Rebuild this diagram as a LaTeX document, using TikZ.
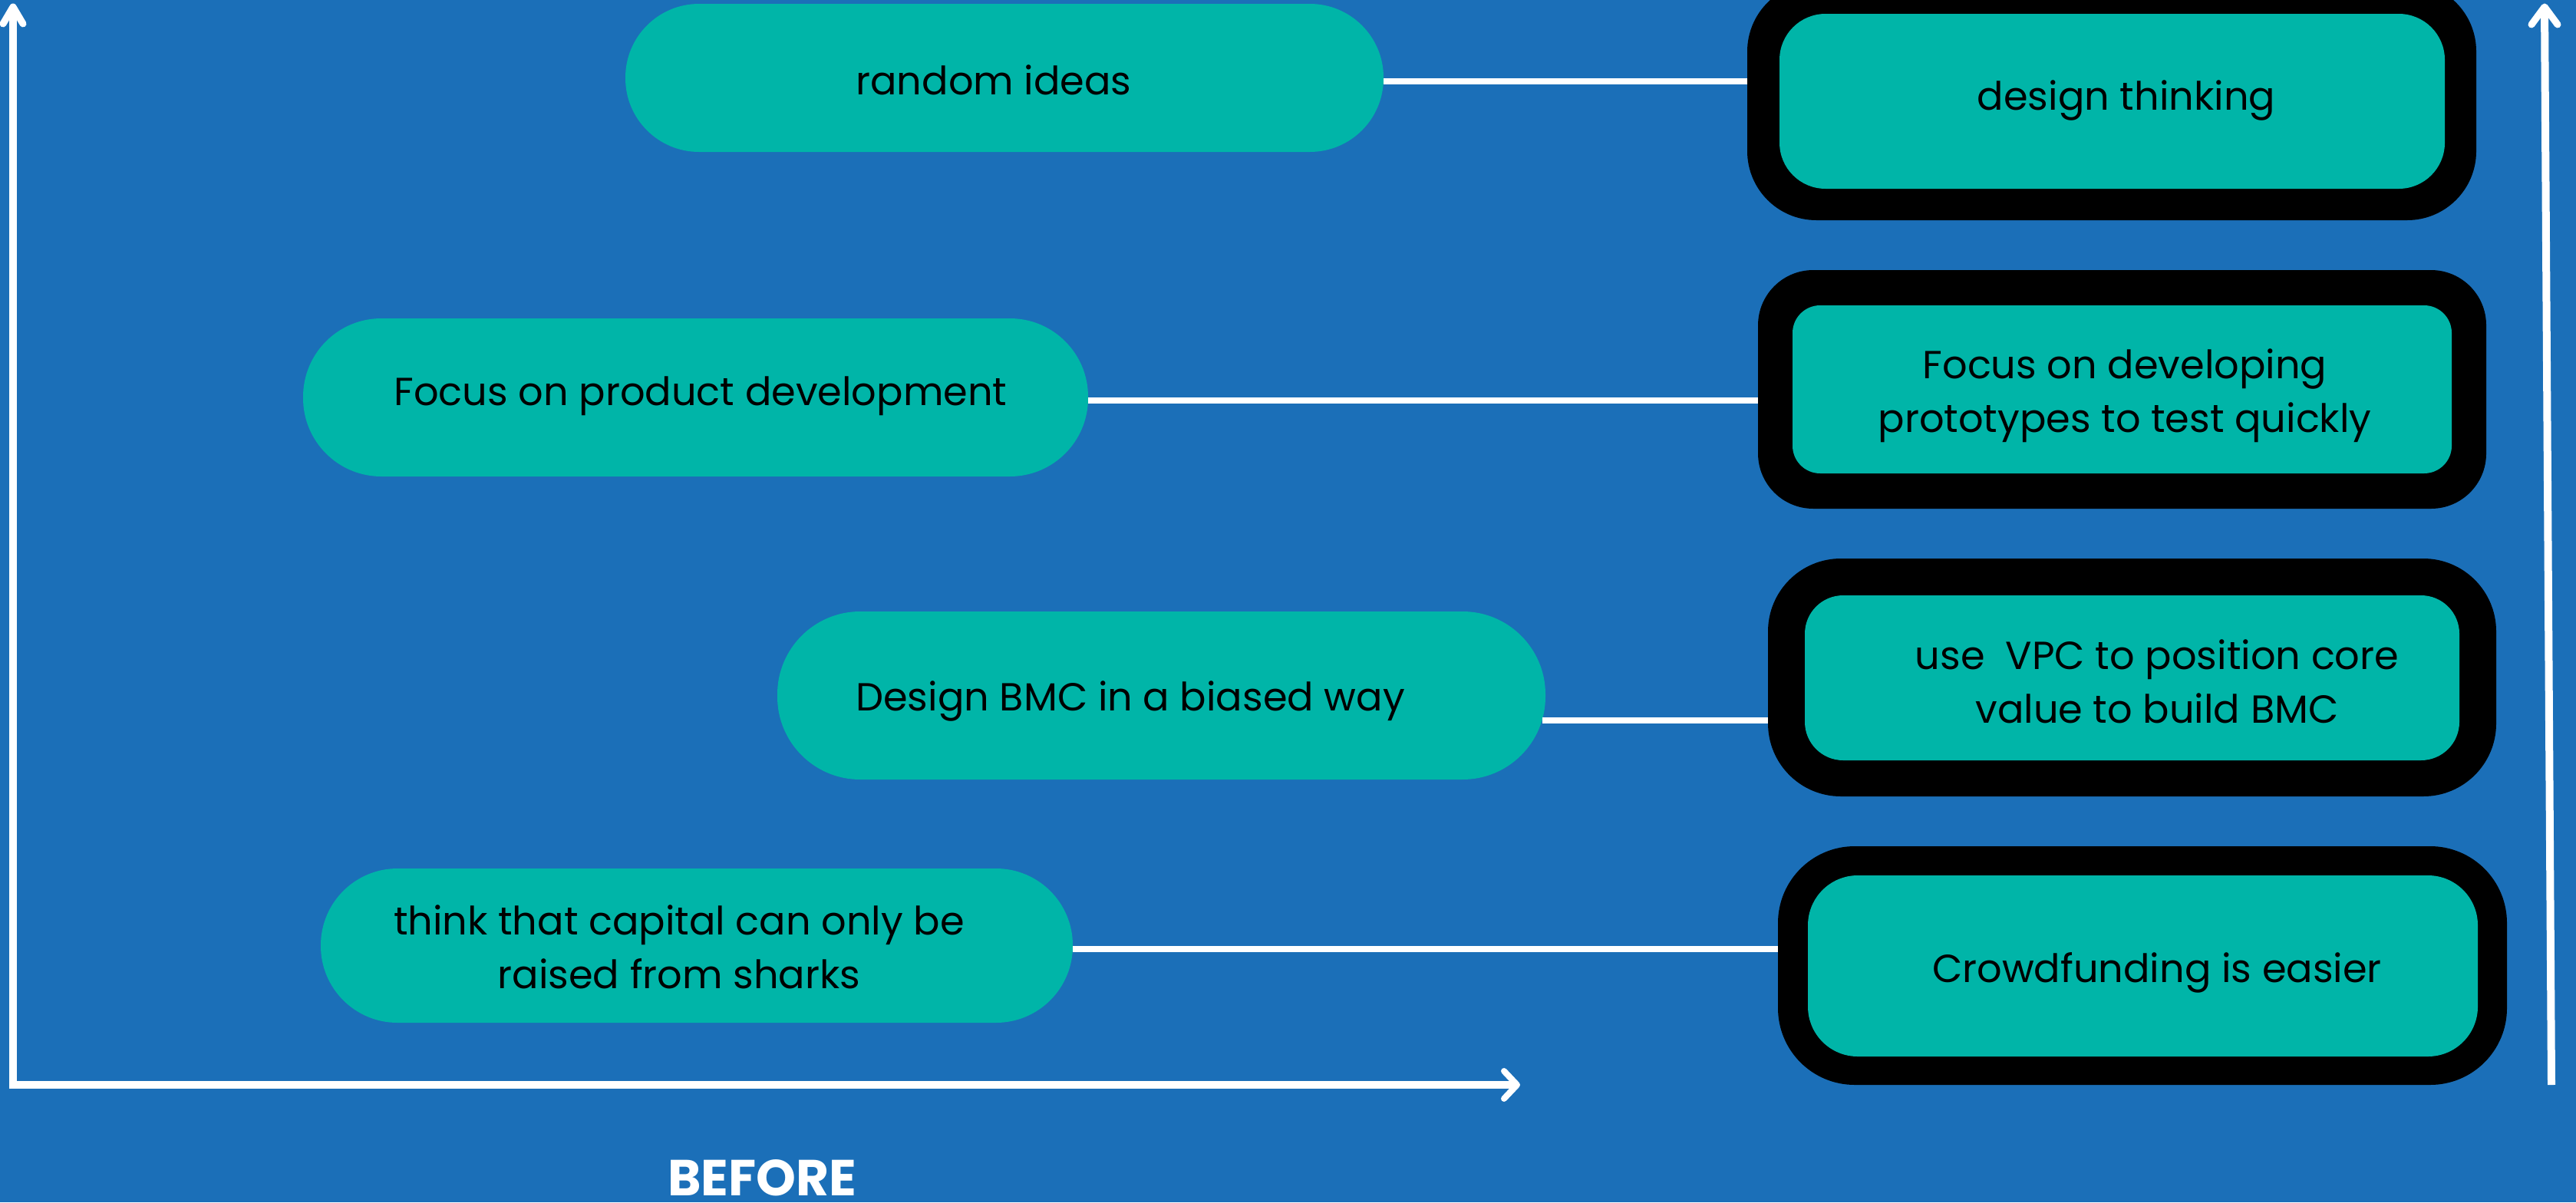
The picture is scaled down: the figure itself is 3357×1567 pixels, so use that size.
\documentclass[tikz,border=0pt]{standalone}
\usepackage{fontspec}
\setmainfont{Poppins}
\definecolor{bgblue}{RGB}{27,111,184}
\definecolor{tealbox}{RGB}{0,181,168}
\newcommand{\twoline}[2]{\begin{tabular}[t]{@{}c@{}}#1\\#2\end{tabular}}
\begin{document}
\begin{tikzpicture}[x=1pt,y=-1pt,
  pillbox/.style={fill=tealbox, draw=none, inner sep=0pt},
  framebox/.style={fill=black, draw=none, inner sep=0pt},
  innerbox/.style={fill=tealbox, draw=none, inner sep=0pt},
  txt/.style={anchor=base, inner sep=0pt, text=black, font=\fontsize{51}{70}\selectfont},
  conn/.style={draw=white, line width=8pt},
  axisline/.style={draw=white, line width=10pt},
  headline/.style={draw=white, line width=9pt, line cap=round, line join=round}]
\useasboundingbox (0,0) rectangle (3357,1567);
\clip (0,0) rectangle (3357,1567);
\fill[bgblue] (0,0) rectangle (3357,1567);

% left pills
\node[pillbox, rounded corners=96pt, minimum width=988pt, minimum height=193pt] (L1) at (1309,101.5) {};
\node[pillbox, rounded corners=102pt, minimum width=1023pt, minimum height=206pt] (L2) at (906.5,518) {};
\node[pillbox, rounded corners=108pt, minimum width=1001pt, minimum height=219pt] (L3) at (1513.5,906.5) {};
\node[pillbox, rounded corners=100pt, minimum width=980pt, minimum height=201pt] (L4) at (908,1232.5) {};

% right framed boxes
\node[framebox, rounded corners=90pt, minimum width=950pt, minimum height=310pt] (R1o) at (2752,132) {};
\node[innerbox, rounded corners=60pt, minimum width=867pt, minimum height=228pt] (R1) at (2752.5,132) {};
\node[framebox, rounded corners=72pt, minimum width=949pt, minimum height=311pt] (R2o) at (2765.5,507.5) {};
\node[innerbox, rounded corners=36pt, minimum width=859pt, minimum height=219pt] (R2) at (2765.5,507.5) {};
\node[framebox, rounded corners=95pt, minimum width=949pt, minimum height=310pt] (R3o) at (2778.5,883) {};
\node[innerbox, rounded corners=50pt, minimum width=853pt, minimum height=215pt] (R3) at (2778.5,883.5) {};
\node[framebox, rounded corners=100pt, minimum width=950pt, minimum height=311pt] (R4o) at (2792,1258.5) {};
\node[innerbox, rounded corners=65pt, minimum width=873pt, minimum height=236pt] (R4) at (2792.5,1259) {};

% connectors
\draw[conn] (L1.east |- 0,105.5) -- (R1o.west |- 0,105.5);
\draw[conn] (L2.east |- 0,522) -- (R2o.west |- 0,522);
\draw[conn] ([xshift=-4pt]L3.east |- 0,939) -- (R3o.west |- 0,939);
\draw[conn] (L4.east |- 0,1237) -- (R4o.west |- 0,1237);

% texts
\node[txt] (T1) at (1295,123) {random ideas};
\node[txt] (T2) at (913,528) {Focus on product development};
\node[txt] (T3) at (1473,926) {Design BMC in a biased way};
\node[txt] (T4) at (885,1218) {\twoline{think that capital can only be}{raised from sharks}};
\node[txt] (U1) at (2771,143) {design thinking};
\node[txt] (U2) at (2769,493) {\twoline{Focus on developing}{prototypes to test quickly}};
\node[txt] (U3) at (2811,872) {\twoline{use\ \ VPC to position core}{value to build BMC}};
\node[txt] (U4) at (2811,1280) {Crowdfunding is easier};

% axes
\coordinate (O1) at (17,1419);
\coordinate (Y1) at (17,9);
\coordinate (O2) at (17,1414);
\coordinate (X1) at (1977,1414);
\coordinate (O3) at (3325,1414);
\coordinate (Y3) at (3316,9);
\draw[axisline] (O1) -- (Y1);
\draw[headline] (4,31) -- (Y1) -- (30,31);
\draw[axisline] (O2) -- (X1);
\draw[headline, line width=8pt] (1960,1396) -- (X1) -- (1960,1432);
\draw[axisline] (O3) -- (Y3);
\draw[headline] (3299,32) -- (Y3) -- (3333,32);

\node[anchor=base, inner sep=0pt, text=white, font=\fontsize{66}{70}\selectfont\bfseries] (B) at (993,1558) {BEFORE};
\end{tikzpicture}
\end{document}
